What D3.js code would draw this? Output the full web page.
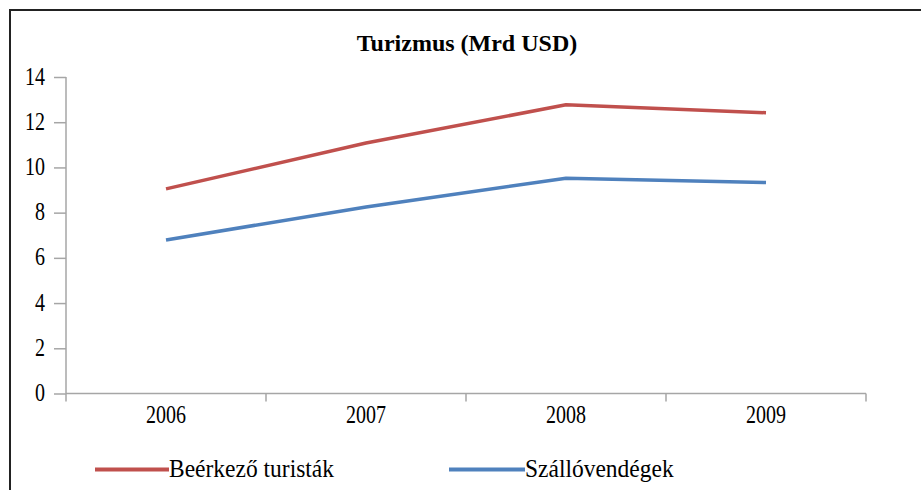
<!DOCTYPE html>
<html><head><meta charset="utf-8">
<script src="https://cdn.jsdelivr.net/npm/d3@7"></script>
<style>body{margin:0;background:#fff}svg{display:block}</style>
</head><body>
<svg id="c" width="921" height="490"></svg>
<script>
const years = ["2006","2007","2008","2009"];
const arrivals = [9.05, 11.08, 12.77, 12.42];
const guests = [6.79, 8.25, 9.52, 9.33];
const yTicks = [0,2,4,6,8,10,12,14];
const seriesNames = ["Beérkező turisták","Szállóvendégek"];
const colors = ["#C0504D","#4F81BD"];
const title = "Turizmus (Mrd USD)";
const FONT = "'Liberation Serif', 'DejaVu Serif', serif";

const svg = d3.select("#c");
svg.append("rect").attr("x",10).attr("y",10).attr("width",930).attr("height",500)
  .attr("fill","none").attr("stroke","#222").attr("stroke-width",2);

const x = d3.scaleBand().domain(years).range([66,866]);
const y = d3.scaleLinear().domain([0,14]).range([393.5,77]);

svg.append("text").attr("x",467).attr("y",51).attr("text-anchor","middle")
  .style("font-family",FONT).style("font-size","24px").style("font-weight","bold").attr("fill","#000").text(title);

const axisColor = "#a6a6a6";
const ya = svg.append("g").attr("transform","translate(66,0)")
  .call(d3.axisLeft(y).tickValues(yTicks).tickSize(12).tickPadding(9).tickFormat(d3.format("d")));
ya.select(".domain").remove();
ya.attr("font-family",null).attr("font-size",null);
ya.append("line").attr("x1",0).attr("x2",0).attr("y1",y(14)).attr("y2",y(0)).attr("stroke",axisColor).attr("stroke-width",1.5);
ya.selectAll(".tick line").attr("stroke",axisColor).attr("stroke-width",1.5);
ya.selectAll(".tick text").style("font-family",FONT).style("font-size","20px").attr("fill","#000")
  .attr("dy",null).attr("x",null)
  .attr("transform","translate(-21,7) scale(1,1.3)");

const xa = svg.append("g").attr("transform",`translate(0,${y(0)})`)
  .call(d3.axisBottom(x).tickSize(0).tickPadding(15));
xa.select(".domain").remove();
xa.attr("font-family",null).attr("font-size",null);
xa.append("line").attr("x1",66).attr("x2",866).attr("y1",0).attr("y2",0).attr("stroke",axisColor).attr("stroke-width",1.5);
const edges = [66, ...years.map(d=>x(d)+x.bandwidth())];
xa.selectAll(".edge").data(edges).enter().append("line").attr("class","edge")
  .attr("x1",d=>d).attr("x2",d=>d).attr("y1",0).attr("y2",8).attr("stroke",axisColor).attr("stroke-width",1.5);
xa.selectAll(".tick text").style("font-family",FONT).style("font-size","20px").attr("fill","#000")
  .attr("dy",null).attr("y",null)
  .attr("transform","translate(0,29) scale(1,1.3)");

const line = d3.line().x((d,i)=>x(years[i])+x.bandwidth()/2).y(d=>y(d));
[arrivals,guests].forEach((s,i)=>{
  svg.append("path").datum(s).attr("d",line).attr("fill","none")
    .attr("stroke",colors[i]).attr("stroke-width",3.5).attr("stroke-linejoin","round");
});

const legX = [[95,169],[449,525]];
seriesNames.forEach((n,i)=>{
  svg.append("line").attr("x1",legX[i][0]).attr("x2",legX[i][1]).attr("y1",469.5).attr("y2",469.5)
    .attr("stroke",colors[i]).attr("stroke-width",4);
  svg.append("text").attr("transform",`translate(${legX[i][1]},477) scale(1,1.1)`)
    .style("font-family",FONT).style("font-size","23.5px").attr("fill","#000").text(n);
});
</script>
</body></html>
